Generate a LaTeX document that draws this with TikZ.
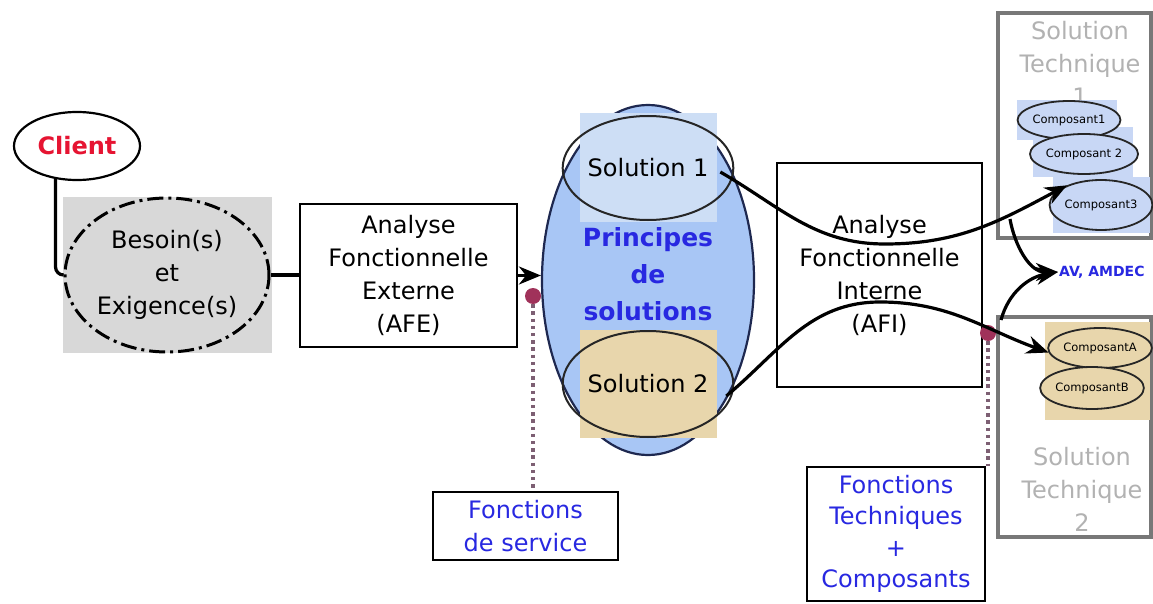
\documentclass[tikz,border=0pt]{standalone}
\usepackage{fontspec}
\setmainfont{DejaVu Sans}
\usetikzlibrary{shapes.geometric,arrows.meta}
\definecolor{myblue}{RGB}{40,40,225}
\definecolor{myred}{RGB}{230,20,50}
\definecolor{bigblue}{RGB}{168,198,245}
\definecolor{navy}{RGB}{30,40,80}
\definecolor{soneblue}{RGB}{205,222,245}
\definecolor{tan}{RGB}{232,214,172}
\definecolor{marble}{RGB}{216,216,216}
\definecolor{compblue}{RGB}{200,215,245}
\definecolor{dotc}{RGB}{160,50,90}
\definecolor{dotlc}{RGB}{125,95,115}
\definecolor{stgray}{RGB}{120,120,120}
\definecolor{sttext}{RGB}{178,178,178}
\begin{document}
\begin{tikzpicture}[x=1pt,y=1pt,
  boxnode/.style={rectangle, draw=black, line width=2.4pt, fill=white, inner sep=0pt},
  txt/.style={font=\fontsize{24}{33}\selectfont, align=center},
  ell/.style={ellipse, inner sep=0pt},
  conn/.style={line width=3.2pt},
  arr/.style={conn, -{Stealth[length=22pt,width=18pt]}},
  dotn/.style={circle, fill=dotc, minimum size=16pt, inner sep=0pt},
  dline/.style={draw=dotlc, line width=3.4pt, dash pattern=on 3.4pt off 3.8pt},
  bgrect/.style={rectangle, inner sep=0pt},
  comp/.style={ell, draw=black!85, line width=1.8pt, font=\fontsize{11.5}{12}\selectfont},
  sttxt/.style={font=\fontsize{24}{33}\selectfont, align=center, text=sttext}
]
\useasboundingbox (0,0) rectangle (1153,-604);
\fill[white] (0,0) rectangle (1153,-604);

% Client
\node[ell, draw=black, fill=white, line width=2.2pt, minimum width=126pt, minimum height=68pt,
      font=\bfseries\fontsize{24}{28}\selectfont, text=myred] (client) at (77,-146) {Client};

% Besoin(s) et Exigence(s)
\node[bgrect, fill=marble, minimum width=209pt, minimum height=156pt] (besoinbg) at (167.5,-275) {};
\node[ell, draw=black, line width=3pt, dash pattern=on 16pt off 5pt on 3pt off 5pt,
      minimum width=204pt, minimum height=154pt, txt] (besoin) at (167,-275) {Besoin(s)\\et\\Exigence(s)};

% AFE
\node[boxnode, minimum width=217pt, minimum height=143pt, txt] (afe) at (408.5,-275.5)
  {Analyse\\Fonctionnelle\\Externe\\(AFE)};

% Principes de solutions
\node[ell, fill=bigblue, draw=navy, line width=2.2pt, minimum width=212pt, minimum height=350pt] (big) at (648,-280) {};
\node[bgrect, fill=soneblue, minimum width=137pt, minimum height=109pt] (s1bg) at (648.5,-167.5) {};
\node[ell, draw=black!85, line width=2pt, minimum width=136pt, minimum height=104pt, txt] (s1) at (648,-168) {Solution 1};
\node[bgrect, fill=tan, minimum width=137pt, minimum height=108pt] (s2bg) at (648.5,-384) {};
\node[ell, draw=black!85, line width=2pt, minimum width=136pt, minimum height=106pt, txt] (s2) at (648,-384) {Solution 2};
\node[font=\bfseries\fontsize{25}{37}\selectfont, align=center, text=myblue] (princ) at (648,-274) {Principes\\de\\solutions};

% AFI
\node[boxnode, minimum width=205pt, minimum height=224pt, txt] (afi) at (879.5,-275)
  {Analyse\\Fonctionnelle\\Interne\\(AFI)};

% Fonctions boxes
\node[boxnode, minimum width=185pt, minimum height=68pt, txt, text=myblue] (fs) at (525.5,-526) {Fonctions\\de service};
\node[boxnode, minimum width=178pt, minimum height=134pt, font=\fontsize{24}{31.5}\selectfont, align=center, text=myblue] (ft) at (896,-534)
  {Fonctions\\Techniques\\+\\Composants};

% Solution Technique 1
\node[rectangle, draw=stgray, line width=3.4pt, minimum width=153pt, minimum height=225pt, inner sep=0pt] (st1) at (1074.5,-125.5) {};
\node[sttxt] (st1t) at (1080,-63) {Solution\\Technique\\1};
\node[bgrect, fill=compblue, minimum width=100pt, minimum height=40pt] (c1bg) at (1067,-120) {};
\node[bgrect, fill=compblue, minimum width=100pt, minimum height=50pt] (c2bg) at (1083,-152) {};
\node[bgrect, fill=compblue, minimum width=97pt, minimum height=56pt] (c3bg) at (1101.5,-205) {};
\node[comp, fill=compblue, minimum width=94pt, minimum height=38pt] (c1) at (1069,-120) {Composant1};
\node[comp, fill=compblue, minimum width=98pt, minimum height=40pt] (c2) at (1084,-154) {Composant 2};
\node[comp, fill=compblue, minimum width=98pt, minimum height=50pt] (c3) at (1101,-205) {Composant3};

% Solution Technique 2
\node[rectangle, draw=stgray, line width=3.4pt, minimum width=153pt, minimum height=220pt, inner sep=0pt] (st2) at (1074.5,-427) {};
\node[sttxt] (st2t) at (1082,-489) {Solution\\Technique\\2};
\node[bgrect, fill=tan, minimum width=105pt, minimum height=98pt] (cabg) at (1097.5,-371) {};
\node[comp, fill=tan, minimum width=94pt, minimum height=40pt] (ca) at (1100,-348) {ComposantA};
\node[comp, fill=tan, minimum width=98pt, minimum height=42pt] (cb) at (1092,-388) {ComposantB};

% AV, AMDEC
\node[font=\bfseries\fontsize{14}{16}\selectfont, text=myblue, anchor=west, inner sep=1pt] (av) at (1058,-272) {AV, AMDEC};

% dots
\node[dotn] (d1) at (533,-296) {};
\node[dotn] (d2) at (988,-333) {};

% connectors
\draw[conn, rounded corners=8pt] (client.237) |- (besoin.west);
\draw[conn] (besoin.east) -- (afe.west |- besoin.east);
\draw[arr] (afe.east) -- (afe.east -| big.west);
\draw[dline] (d1.south) -- (d1 |- fs.north);
\draw[dline] (d2.south) -- (d2 |- ft.north);

\draw[arr] ([xshift=-14pt,yshift=-4pt]s1.east) to[out=-30,in=180] (885,-244) to[out=0,in=208] (c3.150);
\draw[arr] ([xshift=-8pt,yshift=-12pt]s2.east) to[out=40,in=180] (880,-302) to[out=0,in=160] (ca.185);

\coordinate (b1) at (1010,-219);
\coordinate (b2) at (1001,-320);
\draw[arr] (b1) to[out=-80,in=180] (av.west);
\draw[arr] (b2) to[out=75,in=190] (av.west);
\end{tikzpicture}
\end{document}
